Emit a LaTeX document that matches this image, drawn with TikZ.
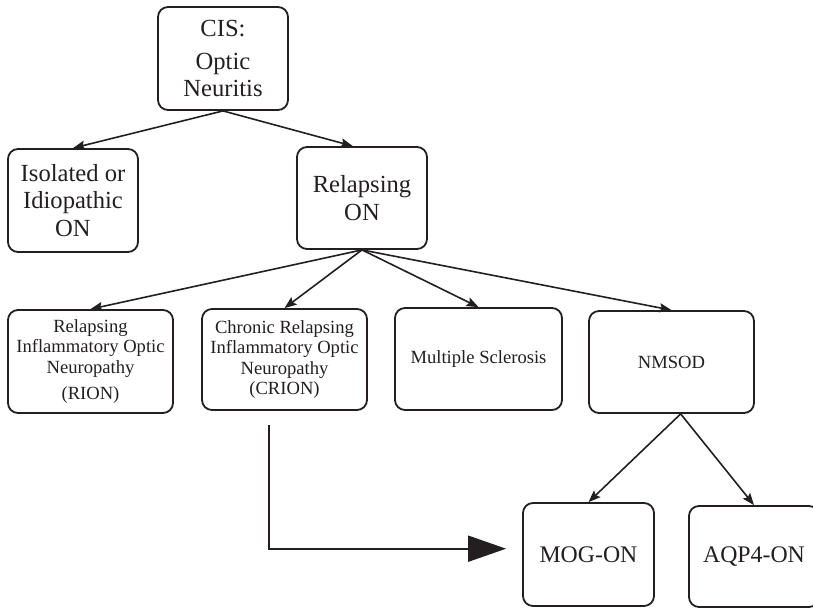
\documentclass[tikz,border=0pt]{standalone}
\usepackage{fontspec}
\setmainfont{Liberation Serif}
\usepackage{xcolor}
\usetikzlibrary{arrows.meta}
\definecolor{cink}{HTML}{231F20}

\begin{document}
\begin{tikzpicture}[x=0.5pt,y=-0.5pt,
  box/.style={draw=cink,line width=0.9pt,rounded corners=5pt,align=center,text=cink,inner sep=2pt},
  big/.style={box,font=\fontsize{12.3}{13.6}\selectfont},
  mid/.style={box,font=\fontsize{11.9}{13}\selectfont},
  small/.style={box,font=\fontsize{9.3}{10.2}\selectfont},
  link/.style={draw=cink,line width=0.8pt,-{Stealth[length=6pt,width=4.6pt,inset=1pt]}}]
  \useasboundingbox (0,0) rectangle (813,609);
  \node[big,minimum width=65pt,minimum height=51.5pt] (cis) at (223,58.5) {CIS:\\[3pt]Optic\\Neuritis};
  \node[big,minimum width=65pt,minimum height=51.5pt] (iso) at (73,200.5) {Isolated or\\Idiopathic\\ON};
  \node[big,minimum width=65pt,minimum height=51pt] (rel) at (362,198) {Relapsing\\ON};
  \node[small,minimum width=82.5pt,minimum height=51.5pt] (rion) at (90.5,361.5) {Relapsing\\Inflammatory Optic\\Neuropathy\\[3pt](RION)};
  \node[small,minimum width=82.5pt,minimum height=50.5pt] (crion) at (284.5,359.5) {Chronic Relapsing\\Inflammatory Optic\\Neuropathy\\(CRION)};
  \node[small,minimum width=83.5pt,minimum height=51pt] (ms) at (478.5,359) {Multiple Sclerosis};
  \node[small,minimum width=82.5pt,minimum height=51pt] (nmsod) at (671.5,362) {NMSOD};
  \node[mid,minimum width=65.5pt,minimum height=51.5pt] (mog) at (588.5,554.5) {MOG-ON};
  \node[mid,minimum width=65pt,minimum height=50.5pt] (aqp) at (754,556.5) {AQP4-ON};

  \draw[link] (cis.south) -- (iso.north);
  \draw[link] (cis.south) -- (rel.100);
  \foreach \t in {rion,crion,ms,nmsod}
    \draw[link] (rel.south) -- (\t.north);
  \draw[link] (nmsod.-80) -- (mog.north);
  \draw[link] (nmsod.-80) -- (aqp.north);
  \coordinate (crionfoot) at (269,425);
  \draw[draw=cink,line width=0.9pt,-{Triangle[length=19pt,width=13pt]},shorten >=8pt] (crionfoot) |- (mog.175);
\end{tikzpicture}
\end{document}
